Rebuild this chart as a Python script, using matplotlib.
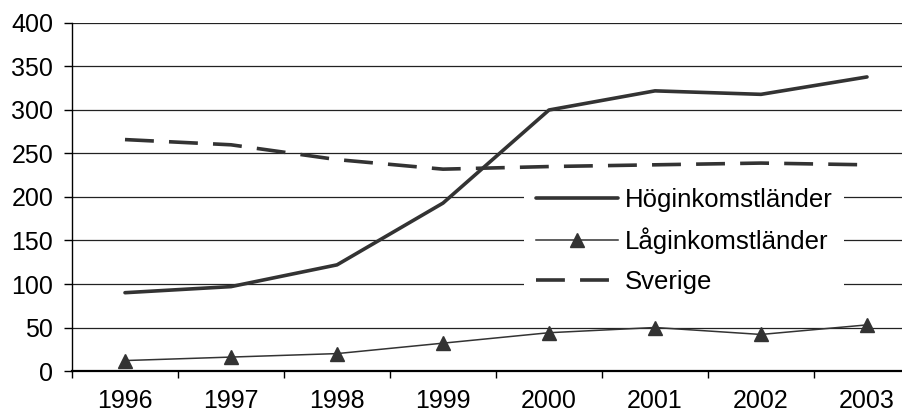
import numpy as np
import matplotlib
matplotlib.use("Agg")
import matplotlib.pyplot as plt
import matplotlib.ticker as mticker

plt.rcParams.update({"font.family": ["Liberation Sans", "DejaVu Sans"], "font.size": 18})

YEARS = ["1996", "1997", "1998", "1999", "2000", "2001", "2002", "2003"]
HOG = [90, 97, 122, 193, 300, 322, 318, 338]
LAG = [12, 16, 20, 32, 44, 50, 42, 53]
SVE = [266, 260, 243, 232, 235, 237, 239, 237]
LABELS = ["Höginkomstländer", "Låginkomstländer", "Sverige"]
DARK = "#333333"

W, H = 903, 419
fig = plt.figure(figsize=(W / 100, H / 100), dpi=100)
ax = fig.add_axes([72 / W, 48 / H, 848 / W, 348 / H])

x = np.arange(len(YEARS))
ax.plot(x, HOG, color=DARK, lw=2.6, solid_capstyle="round", label=LABELS[0], zorder=3)
ax.plot(x, LAG, color=DARK, lw=1.1, marker="^", ms=10, label=LABELS[1], zorder=3)
ax.plot(x, SVE, color=DARK, lw=2.6, dashes=(8.0, 4.2), label=LABELS[2], zorder=3)

ax.set_xlim(-0.5, len(YEARS) - 0.5)
ax.set_ylim(0, 400)
ax.yaxis.set_major_locator(mticker.MultipleLocator(50))
ax.grid(axis="y", color="#222222", lw=0.9)
ax.set_axisbelow(True)
ax.get_ygridlines()[-1].set_color("#999999")

# category boundaries as ticks, labels at centres
ax.set_xticks(np.arange(-0.5, len(YEARS)), labels=[""] * (len(YEARS) + 1))
ax.set_xticks(x, labels=YEARS, minor=True)
ax.tick_params(axis="x", which="major", length=5, width=1, direction="out")
ax.tick_params(axis="x", which="minor", length=0, pad=13)
ax.tick_params(axis="y", length=5.5, width=1, pad=8)

for s in ["top", "right"]:
    ax.spines[s].set_visible(False)
ax.spines["left"].set_linewidth(1)
ax.spines["bottom"].set_linewidth(1.6)

leg = ax.legend(loc="center", bbox_to_anchor=(684 / W, (419 - 241) / H),
                bbox_transform=fig.transFigure, frameon=True, fancybox=False,
                edgecolor="white", framealpha=1, fontsize=18.5, handlelength=3.2,
                handletextpad=0.25, labelspacing=0.62, borderpad=0.45)
leg.get_frame().set_linewidth(0)

fig.savefig("out.png", dpi=100)
